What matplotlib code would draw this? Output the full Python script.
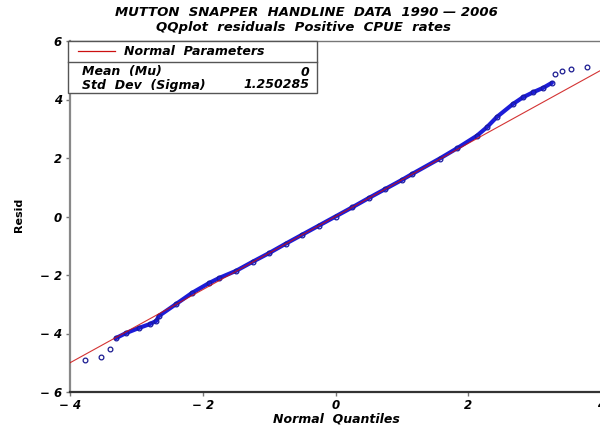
import numpy as np
import matplotlib.pyplot as plt
from matplotlib.patches import Rectangle
from matplotlib.lines import Line2D

band_q = [-3.31, -3.16, -2.96, -2.80, -2.70, -2.66, -2.40, -2.16, -1.90, -1.75,
          -1.50, -1.25, -1.00, -0.75, -0.50, -0.25, 0.00, 0.25, 0.50, 0.75,
          1.00, 1.16, 1.57, 1.83, 2.13, 2.28, 2.43, 2.67, 2.82, 2.98, 3.13, 3.26]
band_r = [-4.16, -3.99, -3.81, -3.68, -3.57, -3.40, -2.99, -2.61, -2.27, -2.10,
          -1.86, -1.55, -1.25, -0.93, -0.62, -0.31, 0.00, 0.31, 0.63, 0.94,
          1.25, 1.46, 1.98, 2.33, 2.76, 3.05, 3.40, 3.84, 4.07, 4.25, 4.40, 4.57]

# isolated points in the tails
tail_q = [-3.78, -3.53, -3.40, 3.31, 3.41, 3.55, 3.79]
tail_r = [-4.91, -4.81, -4.54, 4.88, 4.98, 5.05, 5.12]

mu = 0.0
sigma = 1.250285

xticks = [-4, -2, 0, 2, 4]
yticks = [-6, -4, -2, 0, 2, 4, 6]

plt.rcParams['font.family'] = 'DejaVu Sans'
font = dict(fontweight='bold', fontstyle='italic')

fig = plt.figure(figsize=(6, 4.28), dpi=100)
W, H = 600, 428
ax = fig.add_axes([70 / W, 1 - 392 / H, 531 / W, 351 / H])

# reference normal line
qline = np.array([-4, 4])
ax.plot(qline, mu + sigma * qline, color='#cc1010', lw=0.8, zorder=4, alpha=0.85)

# dense residual band + open circles
ax.plot(band_q, band_r, color='#1c1cd8', lw=3.0, solid_capstyle='round', zorder=3)
ax.plot(band_q, band_r, 'o', mfc='none', mec='#1a1aa0', ms=3.4, mew=0.9, zorder=3)
ax.plot(tail_q, tail_r, 'o', mfc='none', mec='#1a1a90', ms=3.4, mew=0.9, zorder=3)

ax.set_xlim(-4, 4)
ax.set_ylim(-6, 6)
ax.set_xticks(xticks)
ax.set_yticks(yticks)
ax.set_xticklabels([f"{t:d}".replace('-', '\u2212 ') for t in xticks], fontsize=8.5, **font)
ax.set_yticklabels([f"{t:d}".replace('-', '\u2212 ') for t in yticks], fontsize=8.5, **font)
ax.tick_params(direction='out', length=3, width=1, color='#777777')
ax.tick_params(axis='x', pad=2)
ax.tick_params(axis='y', pad=3)

for s in ['top', 'right']:
    ax.spines[s].set_color('#777777')
    ax.spines[s].set_linewidth(1.0)
ax.spines['left'].set_color('#888888')
ax.spines['left'].set_linewidth(1.6)
ax.spines['bottom'].set_color('#333333')
ax.spines['bottom'].set_linewidth(1.6)

fig.text(336 / W, 1 - 419 / H, 'Normal  Quantiles', ha='center', va='center',
         fontsize=9, **font)
fig.text(19 / W, 1 - 215 / H, 'Resid', rotation=90, ha='center', va='center',
         fontsize=8, fontweight='bold', family='Liberation Sans Narrow')

fig.text(306 / W, 1 - 13 / H, 'MUTTON  SNAPPER  HANDLINE  DATA  1990 \u2014 2006',
         ha='center', va='center', fontsize=9.5, **font)
fig.text(303 / W, 1 - 27 / H, 'QQplot  residuals  Positive  CPUE  rates',
         ha='center', va='center', fontsize=9.5, **font)

# parameter box
def fx(px):
    return px / W

def fy(py):
    return 1 - py / H

fig.add_artist(Rectangle((fx(68), fy(93)), fx(317) - fx(68), fy(41) - fy(93),
                         transform=fig.transFigure, facecolor='white',
                         edgecolor='#555555', lw=1.0, zorder=5))
fig.add_artist(Line2D([fx(68), fx(317)], [fy(62), fy(62)], transform=fig.transFigure,
                      color='#555555', lw=1.0, zorder=6))
fig.add_artist(Line2D([fx(78), fx(115)], [fy(51), fy(51)], transform=fig.transFigure,
                      color='#cc1010', lw=0.9, zorder=6))
fig.text(fx(124), fy(51.5), 'Normal  Parameters', ha='left', va='center',
         fontsize=9, zorder=7, **font)
fig.text(fx(82), fy(72), 'Mean  (Mu)', ha='left', va='center', fontsize=9, zorder=7, **font)
fig.text(fx(82), fy(85), 'Std  Dev  (Sigma)', ha='left', va='center', fontsize=9, zorder=7, **font)
fig.text(fx(309), fy(72), f'{mu:g}', ha='right', va='center', fontsize=9, zorder=7, **font)
fig.text(fx(309), fy(85), f'{sigma:.6f}', ha='right', va='center', fontsize=9, zorder=7, **font)

fig.savefig('out.png', dpi=100)
